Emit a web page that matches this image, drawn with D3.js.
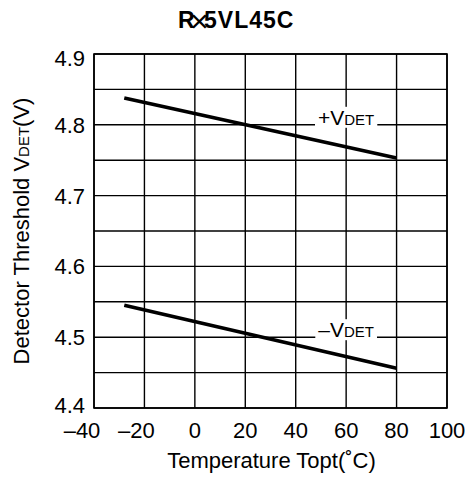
<!DOCTYPE html>
<html>
<head>
<meta charset="utf-8">
<script src="https://cdn.jsdelivr.net/npm/d3@7.9.0/dist/d3.min.js"></script>
<style>
  body { margin: 0; background: #fff; }
  svg text { font-family: "Liberation Sans", Arial, sans-serif; fill: #000; }
</style>
</head>
<body>
<svg id="chart" width="466" height="480"></svg>
<script>
// temperature points for each curve (°C)
const temps = [-28, 80];
const plusVdet = [4.838, 4.753];
const minusVdet = [4.545, 4.456];
const xTicks = [-40, -20, 0, 20, 40, 60, 80, 100];
const yTicks = [4.4, 4.5, 4.6, 4.7, 4.8, 4.9];
const yGrid = d3.range(4.4, 4.9001, 0.05);
const labels = [
  { sign: "+", x: 60, y: 4.8 },
  { sign: "\u2013", x: 60, y: 4.5 }
];

const svg = d3.select("#chart");
const margin = { left: 94, right: 19, top: 54, bottom: 72 };
const W = 466, H = 480;

const x = d3.scaleLinear().domain([-40, 100]).range([margin.left, W - margin.right]);
const y = d3.scaleLinear().domain([4.4, 4.9]).range([H - margin.bottom, margin.top]);

// grid
const grid = svg.append("g").attr("stroke", "#000").attr("stroke-width", 1.4);
grid.selectAll(".vx").data(xTicks).join("line")
  .attr("x1", d => x(d)).attr("x2", d => x(d))
  .attr("y1", y(4.4)).attr("y2", y(4.9));
grid.selectAll(".hy").data(yGrid).join("line")
  .attr("x1", x(-40)).attr("x2", x(100))
  .attr("y1", d => y(d)).attr("y2", d => y(d));

// curve labels, sitting on a grid line with a white patch behind
labels.forEach(l => {
  const g = svg.append("g");
  const t = g.append("text")
    .attr("x", x(l.x)).attr("y", y(l.y))
    .attr("text-anchor", "middle")
    .attr("font-size", 21);
  t.append("tspan").text(l.sign + "V");
  t.append("tspan").attr("font-size", 15).text("DET");
  const bb = t.node().getBBox();
  g.insert("rect", "text")
    .attr("x", bb.x - 3).attr("y", bb.y + 1)
    .attr("width", bb.width + 6).attr("height", y(l.y) - bb.y + 2)
    .attr("fill", "#fff");
});

// curves
const line = d3.line().x(d => x(d[0])).y(d => y(d[1]));
[plusVdet, minusVdet].forEach(s => {
  svg.append("path")
    .datum(temps.map((t, i) => [t, s[i]]))
    .attr("d", line)
    .attr("fill", "none")
    .attr("stroke", "#000")
    .attr("stroke-width", 3.6);
});

// frame
svg.append("rect")
  .attr("x", x(-40)).attr("y", y(4.9))
  .attr("width", x(100) - x(-40)).attr("height", y(4.4) - y(4.9))
  .attr("fill", "none").attr("stroke", "#000").attr("stroke-width", 1.6);

// tick labels (minus sign hangs to the left of the number)
svg.append("g").selectAll("text").data(xTicks).join("text")
  .attr("x", (d, i) => x(d) - (d < 0 ? 8 : 0) - (i === 0 ? 4 : 0))
  .attr("y", y(4.4) + 30)
  .attr("text-anchor", "middle").attr("font-size", 22)
  .text(d => d < 0 ? "\u2013" + Math.abs(d) : d);
svg.append("g").selectAll("text").data(yTicks).join("text")
  .attr("x", x(-40) - 9)
  .attr("y", (d, i) => y(d) + 8 + (i === 0 ? -3 : i === yTicks.length - 1 ? 4 : 0))
  .attr("text-anchor", "end").attr("font-size", 22)
  .text(d => d.toFixed(1));

// axis titles
svg.append("text")
  .attr("x", (x(-40) + x(100)) / 2 + 1).attr("y", 468)
  .attr("text-anchor", "middle").attr("font-size", 22)
  .text("Temperature Topt(\u02DAC)");

const yl = svg.append("text")
  .attr("transform", `translate(29,${(y(4.4) + y(4.9)) / 2}) rotate(-90)`)
  .attr("text-anchor", "middle").attr("font-size", 22);
yl.append("tspan").text("Detector Threshold V");
yl.append("tspan").attr("font-size", 15).text("DET");
yl.append("tspan").text("(V)");

// title: R, a thin multiplication sign, then the part number
const title = svg.append("g").attr("font-size", 23);
title.append("text").attr("x", 178).attr("y", 28)
  .attr("font-weight", "bold").text("R");
title.append("text").attr("x", 190).attr("y", 32)
  .attr("font-size", 32).text("\u00D7");
title.append("text").attr("x", 204).attr("y", 28)
  .attr("font-weight", "bold").attr("letter-spacing", 1)
  .text("5VL45C");
</script>
</body>
</html>
